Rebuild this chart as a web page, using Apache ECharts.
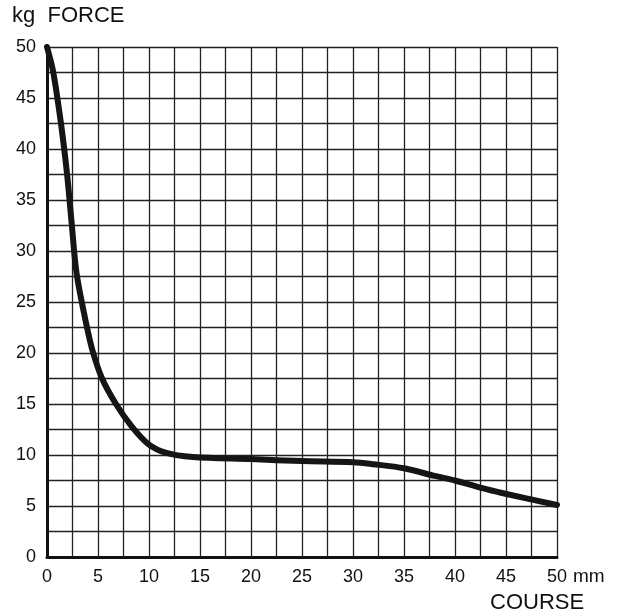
<!DOCTYPE html>
<html><head><meta charset="utf-8">
<script src="https://cdn.jsdelivr.net/npm/echarts@6/dist/echarts.min.js"></script>
<style>html,body{margin:0;padding:0;background:#fff}#c{width:619px;height:615px}</style>
</head><body><div id="c"></div>
<script>
const courseMm = [0,0.6,1.37,1.96,2.42,2.9,3.9,4.5,5.4,6.7,8.3,9.9,11.7,14.3,20,25,30,32,35,38,40,42.5,44.5,50];
const forceKg  = [50,47.6,42.5,37.6,32.7,27.8,22.6,20.1,17.5,15.1,12.8,11.1,10.2,9.8,9.6,9.4,9.3,9.1,8.7,7.95,7.5,6.8,6.3,5.1];
const xTicks = [0,5,10,15,20,25,30,35,40,45,50];
const yTicks = [0,5,10,15,20,25,30,35,40,45,50];
const yTitle = 'kg  FORCE';
const xUnit = 'mm';
const xTitle = 'COURSE';

const font = 'Liberation Sans, Arial, sans-serif';
const chart = echarts.init(document.getElementById('c'));
chart.setOption({
  animation:false,
  grid:{left:47,right:62,top:47,bottom:58,containLabel:false},
  xAxis:{type:'value',min:0,max:50,interval:2.5,
    axisLine:{lineStyle:{color:'#111',width:3}},
    axisTick:{show:false},
    axisLabel:{margin:11,color:'#111',fontSize:18,fontFamily:font,
      formatter:v=>xTicks.includes(v)?String(v):''},
    splitLine:{lineStyle:{color:'#222',width:1.3}}},
  yAxis:{type:'value',min:0,max:50,interval:2.5,
    axisLine:{show:true,lineStyle:{color:'#111',width:3}},
    axisTick:{show:false},
    axisLabel:{margin:11,color:'#111',fontSize:18,fontFamily:font,
      formatter:v=>yTicks.includes(v)?String(v):''},
    splitLine:{lineStyle:{color:'#222',width:1.3}}},
  graphic:[
    {type:'text',left:12,top:5,style:{text:yTitle,fontSize:22,fontFamily:font,fill:'#111'}},
    {type:'text',left:573,top:567,style:{text:xUnit,fontSize:19,fontFamily:font,fill:'#111'}},
    {type:'text',left:490,top:592,style:{text:xTitle,fontSize:22,fontFamily:font,fill:'#111'}}
  ],
  series:[{type:'line',data:courseMm.map((x,i)=>[x,forceKg[i]]),smooth:0.3,showSymbol:false,
    lineStyle:{color:'#151515',width:6,cap:'round',join:'round'}}]
});
</script></body></html>
